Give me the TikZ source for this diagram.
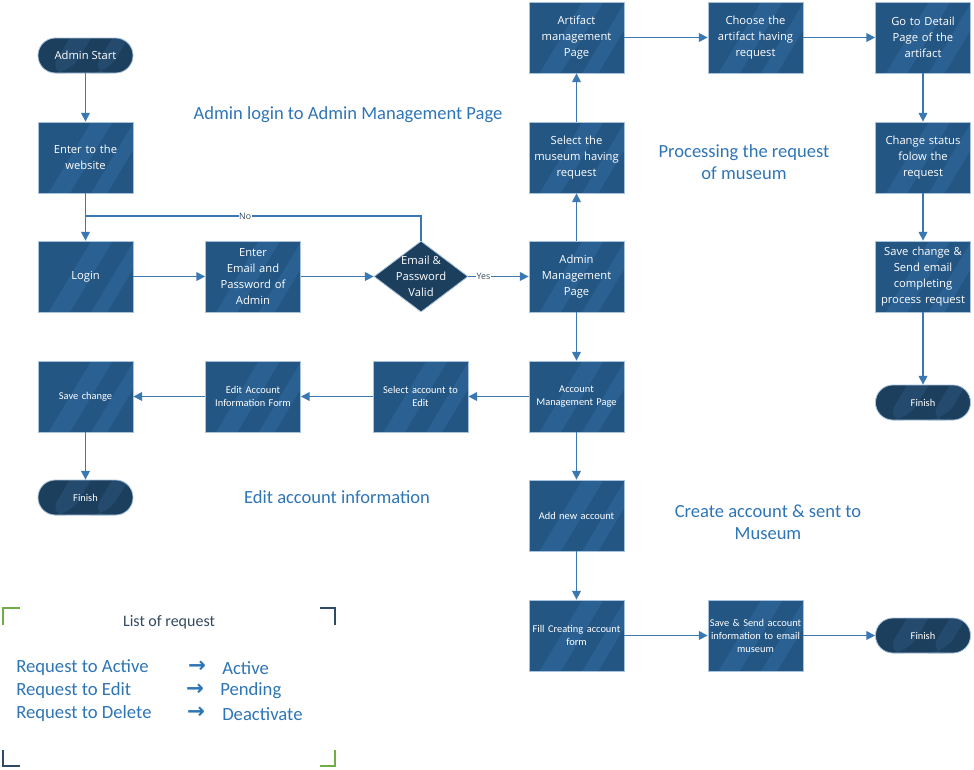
\documentclass[tikz,border=0pt]{standalone}
\usepackage{fontspec}
\setmainfont{Carlito}
\newfontfamily\boxfont{Open Sans}
\newfontfamily\condfont{Carlito}
\newfontfamily\symfont{DejaVu Sans}
\usetikzlibrary{arrows.meta,shapes.geometric,calc}
\definecolor{boxfill}{HTML}{235683}
\definecolor{boxstripe}{HTML}{2B6192}
\definecolor{termfill}{HTML}{1D3F5E}
\definecolor{termstripe}{HTML}{244B6E}
\definecolor{boxline}{HTML}{A7C2DC}
\definecolor{arrowcol}{HTML}{3A78B4}
\definecolor{headcol}{HTML}{2E75B6}
\definecolor{legdark}{HTML}{34495E}
\definecolor{brgreen}{HTML}{70AD47}
\definecolor{brdark}{HTML}{2F4A63}
\tikzset{
  stripes/.style={path picture={
    \fill[#1] ($(path picture bounding box.south west)+(8pt,0)$) -- ++(36pt,60pt) -- ++(16pt,0) -- ++(-36pt,-60pt) -- cycle;
    \fill[#1] ($(path picture bounding box.south west)+(40pt,0)$) -- ++(36pt,60pt) -- ++(12pt,0) -- ++(-36pt,-60pt) -- cycle;
  }},
  proc/.style={rectangle, draw=boxline, line width=0.6pt, fill=boxfill, stripes=boxstripe,
    minimum width=71.25pt, minimum height=53.25pt, text=white, align=center,
    inner sep=1pt, text width=69pt, font=\boxfont\fontsize{8.4}{12}\selectfont},
  sproc/.style={proc, inner xsep=0pt, text width=71pt, font=\condfont\fontsize{7.8}{9.8}\selectfont},
  term/.style={rectangle, rounded corners=13pt, draw=boxline, line width=0.6pt, fill=termfill, stripes=termstripe,
    minimum width=71.25pt, minimum height=26.25pt, text=white, align=center, inner sep=1pt,
    font=\boxfont\fontsize{8.4}{12}\selectfont},
  sterm/.style={term, font=\condfont\fontsize{7.8}{9.8}\selectfont},
  dia/.style={diamond, draw=boxline, line width=0.6pt, fill=termfill, minimum width=70.5pt, minimum height=53.25pt, inner sep=0pt},
  flow/.style={draw=arrowcol, line width=1pt, -{Triangle[length=6.5pt,width=6.5pt]}},
  plain/.style={draw=arrowcol, line width=1pt},
  edgelab/.style={fill=white, inner sep=0.5pt, text=legdark, font=\boxfont\fontsize{6.6}{8}\selectfont},
  heading/.style={text=headcol, align=center, font=\fontsize{13.9}{16.5}\selectfont},
  legend/.style={text=headcol, anchor=west, inner sep=0pt, font=\fontsize{14}{16}\selectfont},
  larrow/.style={text=headcol, inner sep=0pt, font=\symfont\bfseries\fontsize{16}{17}\selectfont},
  bracket/.style={line width=1.6pt},
}
\begin{document}
\begin{tikzpicture}[x=0.75pt,y=-0.75pt]
\useasboundingbox (0,0) rectangle (974,769);
% column 1
\node[term] (start) at (85.5,55.5) {Admin Start};
\node[proc] (web) at (85.5,157.5) {Enter to the\\website};
\node[proc] (login) at (85.5,276.5) {Login};
\node[sproc] (savech) at (85.5,396.5) {Save change};
\node[sterm] (fin2) at (85.5,497.5) {Finish};
% column 2
\node[proc] (email) at (253,276.5) {Enter\\Email and\\Password of\\Admin};
\node[sproc] (editform) at (253,396.5) {Edit Account\\Information Form};
% column 3
\node[dia, label={[text=white, align=center, font=\boxfont\fontsize{8.4}{12}\selectfont]center:{Email \&\\Password\\Valid}}] (valid) at (421,276.5) {};
\node[sproc] (selacc) at (420.5,396.5) {Select account to\\Edit};
% column 4
\node[proc] (artifact) at (576.5,37.5) {Artifact\\management\\Page};
\node[proc] (selmus) at (576.5,157.5) {Select the\\museum having\\request};
\node[proc] (admin) at (576.5,276.5) {Admin\\Management\\Page};
\node[sproc] (accmg) at (576.5,396.5) {Account\\Management Page};
\node[sproc] (addnew) at (576.5,515.5) {Add new account};
\node[sproc] (fill) at (576.5,635.5) {Fill Creating account\\form};
% column 5
\node[proc] (choose) at (755.5,37.5) {Choose the\\artifact having\\request};
\node[sproc] (savesend) at (755.5,635.5) {Save \& Send account\\information to email\\museum};
% column 6
\node[proc] (detail) at (923,37.5) {Go to Detail\\Page of the\\artifact};
\node[proc] (change) at (923,157.5) {Change status\\folow the\\request};
\node[proc] (savemail) at (923,276.5) {Save change \&\\Send email\\completing\\process request};
\node[sterm] (fin1) at (923,402.5) {Finish};
\node[sterm] (fin3) at (923,635.5) {Finish};
% headings
\node[heading] (h1) at (348,115) {Admin login to Admin Management Page};
\node[heading] (h2) at (744,162) {Processing the request\\of museum};
\node[heading] (h3) at (337,497) {Edit account information};
\node[heading] (h4) at (768,522) {Create account \& sent to\\Museum};
% connectors
\draw[flow] (start) -- (web);
\draw[flow] (web) -- (login);
\draw[flow] (login) -- (email);
\draw[flow] (email) -- (valid);
\draw[flow] (valid) -- node[edgelab, pos=0.25] {Yes} (admin);
\coordinate (nojoin) at (85.5,216);
\draw[plain] (valid.north) |- node[edgelab, pos=0.762] {No} (nojoin);
\draw[flow] (admin) -- (selmus);
\draw[flow] (selmus) -- (artifact);
\draw[flow] (artifact) -- (choose);
\draw[flow] (choose) -- (detail);
\draw[flow] (detail) -- (change);
\draw[flow] (change) -- (savemail);
\draw[flow] (savemail) -- (fin1);
\draw[flow] (admin) -- (accmg);
\draw[flow] (accmg) -- (selacc);
\draw[flow] (selacc) -- (editform);
\draw[flow] (editform) -- (savech);
\draw[flow] (savech) -- (fin2);
\draw[flow] (accmg) -- (addnew);
\draw[flow] (addnew) -- (fill);
\draw[flow] (fill) -- (savesend);
\draw[flow] (savesend) -- (fin3);
% legend
\node[text=legdark, font=\fontsize{12}{14}\selectfont] (ltitle) at (169,622) {List of request};
\node[legend] (r1) at (16,668) {Request to Active};
\node[legend] (r2) at (16,691) {Request to Edit};
\node[legend] (r3) at (16,714) {Request to Delete};
\node[larrow] (a1) at (197,667) {→};
\node[larrow] (a2) at (195,690) {→};
\node[larrow] (a3) at (196,713) {→};
\node[legend] (s1) at (222,668) {Active};
\node[legend] (s2) at (220,691) {Pending};
\node[legend] (s3) at (222,714) {Deactivate};
\draw[bracket, brgreen] (3,625) -- (3,608) -- (20,608);
\draw[bracket, brdark] (320,608) -- (335,608) -- (335,625);
\draw[bracket, brdark] (3,750) -- (3,766) -- (20,766);
\draw[bracket, brgreen] (320,766) -- (335,766) -- (335,750);
\end{tikzpicture}
\end{document}
